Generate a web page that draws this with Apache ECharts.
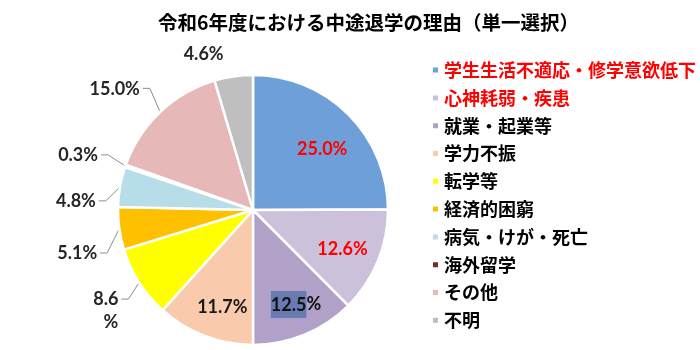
<!DOCTYPE html>
<html>
<head>
<meta charset="utf-8">
<script src="https://cdn.jsdelivr.net/npm/echarts@6/dist/echarts.min.js"></script>
<style>
	html, body { margin: 0; padding: 0; background: #fff; }
	#chart { width: 700px; height: 350px; }
</style>
</head>
<body>
<div id="chart"></div>
<script>
	// 理由（単一選択）
	var reasons = ['学生生活不適応・修学意欲低下', '心神耗弱・疾患', '就業・起業等', '学力不振', '転学等',
		'経済的困窮', '病気・けが・死亡', '海外留学', 'その他', '不明'];
	var shares = [25.0, 12.6, 12.5, 11.7, 8.6, 5.1, 4.8, 0.3, 15.0, 4.6];
	var colors = ['#6f9fd8', '#ccc1da', '#b1a0c7', '#f9cbac', '#ffff00', '#ffc000', '#b7dde8', '#772c2a', '#e6b8b7', '#bfbfbf'];
	var redItems = ['学生生活不適応・修学意欲低下', '心神耗弱・疾患'];
	var insideCount = 4;
	// ラベルの微調整 (dx, dy)
	var labelShift = { 0: [-3, 12], 1: [-5, 0], 2: [4, 0], 3: [6, 2],
		4: [4, 21], 5: [0, 23], 6: [-2, 15], 7: [-6, -6], 8: [-2, -13], 9: [5, -8] };

	var cx = 253, cy = 210, R = 135;
	var labelFont = 'Lato, "Noto Sans", sans-serif';
	var cjkFont = '"Noto Sans CJK JP", sans-serif';

	var chart = echarts.init(document.getElementById('chart'));

	var data = reasons.map(function (name, i) {
		var item = { name: name, value: shares[i], itemStyle: { color: colors[i] } };
		if (i < insideCount) {
			item.label = {
				position: 'inside',
				color: redItems.indexOf(name) >= 0 ? '#ff0000' : '#1a1a1a'
			};
		}
		if (i === reasons.length - 1) {
			item.labelLine = { show: false };
		}
		return item;
	});

	var option = {
		animation: false,
		title: {
			text: '令和6年度における中途退学の理由（単一選択）',
			left: 153,
			top: 8,
			textStyle: { fontFamily: cjkFont, fontSize: 19.5, fontWeight: 'bold', color: '#000' }
		},
		legend: {
			orient: 'vertical',
			left: 426,
			top: 55,
			icon: 'rect',
			itemWidth: 7,
			itemHeight: 7,
			itemGap: 7.6,
			textStyle: { fontFamily: cjkFont, fontSize: 18, fontWeight: 'bold', color: '#000', lineHeight: 20.2 },
			data: reasons.map(function (name) {
				return redItems.indexOf(name) >= 0 ? { name: name, textStyle: { color: '#ff0000' } } : { name: name };
			})
		},
		series: [{
			type: 'pie',
			center: [cx, cy],
			radius: R,
			startAngle: 90,
			clockwise: true,
			avoidLabelOverlap: true,
			itemStyle: { borderColor: '#fff', borderWidth: 2.5 },
			label: {
				position: 'outside',
				fontFamily: labelFont,
				fontSize: 18,
				fontWeight: 'bold',
				color: '#262626',
				formatter: function (p) {
					var txt = p.value.toFixed(1);
					if (p.dataIndex === 2) return '{hl|' + txt + '}{n|%}';
					if (p.dataIndex === 4) return txt + '\n%';
					return txt + '%';
				},
				lineHeight: 23,
				rich: {
					hl: { backgroundColor: '#6a7bb2', color: '#111', fontFamily: labelFont, fontSize: 18, fontWeight: 'bold', padding: [5, 0, 4, 0] },
					n: { color: '#111', fontFamily: labelFont, fontSize: 18, fontWeight: 'bold' }
				}
			},
			labelLine: {
				show: true,
				length: 14,
				length2: 8,
				lineStyle: { color: '#8c8c8c', width: 1 }
			},
			// 内側ラベルは半径の約3/4へ、外側ラベルはずらして引き出し線を付け直す
			labelLayout: function (p) {
				var s = labelShift[p.dataIndex] || [0, 0];
				var r = p.labelRect;
				if (p.dataIndex < insideCount) {
					var lx = r.x + r.width / 2, ly = r.y + r.height / 2;
					return {
						x: cx + (lx - cx) * 1.45 + s[0],
						y: cy + (ly - cy) * 1.45 + s[1],
						align: 'center',
						verticalAlign: 'middle'
					};
				}
				var out = { dx: s[0], dy: s[1] };
				var pts = p.labelLinePoints;
				if (pts && pts.length) {
					var ex = r.x + r.width + s[0] + 3;
					var ey = r.y + s[1] + Math.min(r.height / 2, 11);
					out.labelLinePoints = [pts[0], [ex + 7, ey], [ex, ey]];
				}
				return out;
			},
			data: data
		}]
	};
	chart.setOption(option);
</script>
</body>
</html>
